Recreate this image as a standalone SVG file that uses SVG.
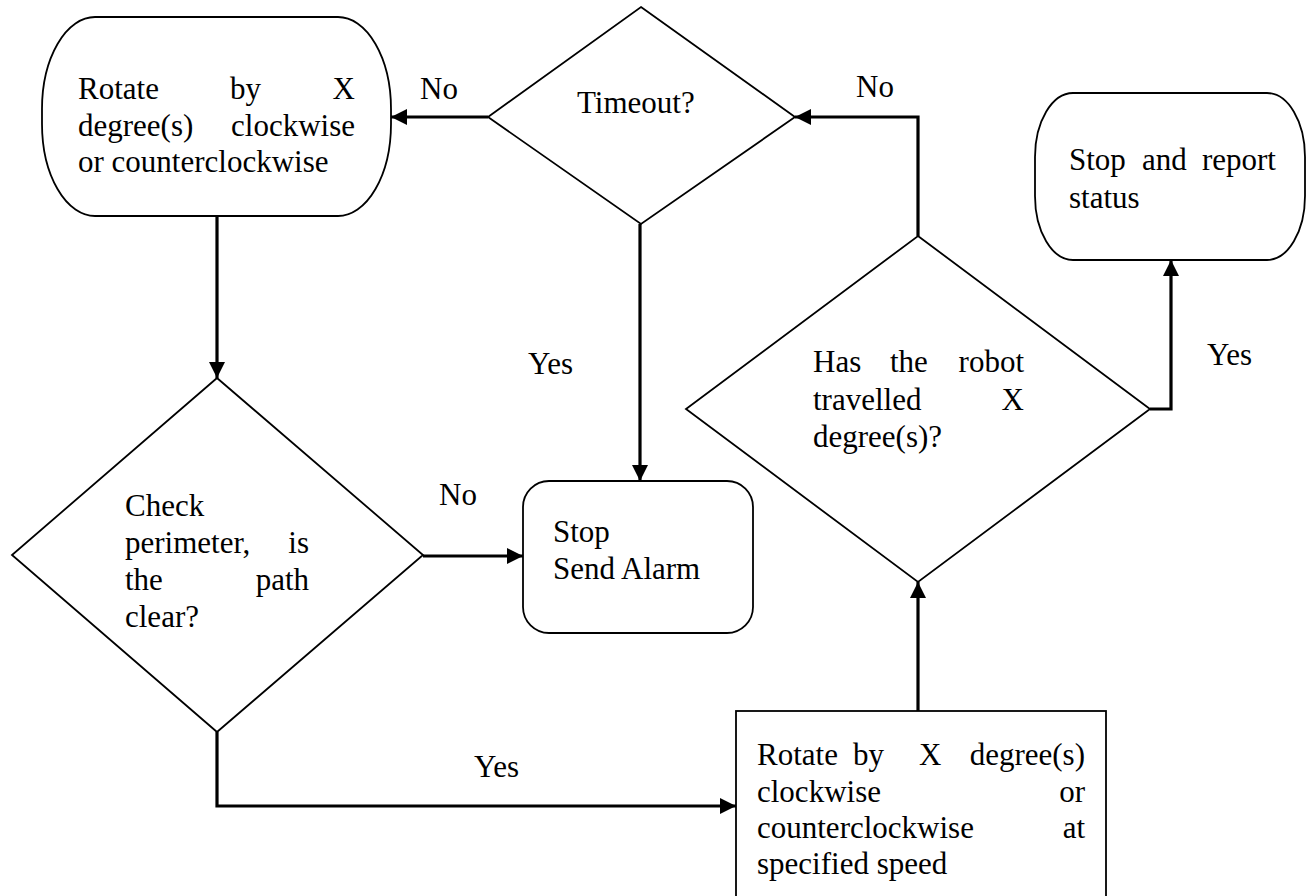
<svg xmlns="http://www.w3.org/2000/svg" width="1313" height="896" viewBox="0 0 1313 896">
  <style>
    .shape { fill: #ffffff; stroke: #000000; stroke-width: 1.8; }
    .conn { fill: none; stroke: #000000; stroke-width: 3.2; }
    text { font-family: "Liberation Serif", "Times New Roman", serif; font-size: 31px; fill: #000000; }
    .end { text-anchor: end; }
  </style>
  <defs>
    <marker id="arrow" markerUnits="userSpaceOnUse" markerWidth="18" markerHeight="16" refX="16" refY="8" orient="auto">
      <path d="M0,0 L16,8 L0,16 Z" fill="#000000"/>
    </marker>
  </defs>
  <rect width="1313" height="896" fill="#ffffff"/>

  <!-- Rotate (top-left terminator) -->
  <g id="rotate-start">
    <rect class="shape" x="42" y="17" width="349" height="199" rx="53" ry="92"/>
    <text x="78" y="99">Rotate</text>
    <text x="230" y="99">by</text>
    <text class="end" x="355" y="99">X</text>
    <text x="78" y="136">degree(s)</text>
    <text class="end" x="355" y="136">clockwise</text>
    <text x="78" y="172">or counterclockwise</text>
  </g>

  <!-- Timeout decision -->
  <g id="timeout">
    <polygon class="shape" points="641,7 795,117 641,224 488,117"/>
    <text x="577" y="113">Timeout?</text>
  </g>

  <!-- Stop and report status -->
  <g id="stop-report">
    <rect class="shape" x="1035" y="93" width="270" height="167" rx="38" ry="64"/>
    <text x="1069" y="170">Stop</text>
    <text x="1142" y="170">and</text>
    <text class="end" x="1276" y="170">report</text>
    <text x="1069" y="208">status</text>
  </g>

  <!-- Check perimeter decision -->
  <g id="check-perimeter">
    <polygon class="shape" points="217,378 423,555 217,732 12,555"/>
    <text x="125" y="516">Check</text>
    <text x="125" y="553">perimeter,</text>
    <text class="end" x="309" y="553">is</text>
    <text x="125" y="590">the</text>
    <text class="end" x="309" y="590">path</text>
    <text x="125" y="627">clear?</text>
  </g>

  <!-- Stop / Send Alarm -->
  <g id="stop-alarm">
    <rect class="shape" x="523" y="481" width="230" height="152" rx="26" ry="26"/>
    <text x="553" y="542">Stop</text>
    <text x="553" y="579">Send Alarm</text>
  </g>

  <!-- Has the robot travelled decision -->
  <g id="travelled">
    <polygon class="shape" points="918,236 1150,409 918,582 686,409"/>
    <text x="813" y="372">Has</text>
    <text x="890" y="372">the</text>
    <text class="end" x="1024" y="372">robot</text>
    <text x="813" y="410">travelled</text>
    <text class="end" x="1024" y="410">X</text>
    <text x="813" y="447">degree(s)?</text>
  </g>

  <!-- Rotate at specified speed (process) -->
  <g id="rotate-speed">
    <rect class="shape" x="736" y="711" width="370" height="200"/>
    <text x="757" y="765">Rotate</text>
    <text x="853" y="765">by</text>
    <text x="919" y="765">X</text>
    <text class="end" x="1085" y="765">degree(s)</text>
    <text x="757" y="802">clockwise</text>
    <text class="end" x="1085" y="802">or</text>
    <text x="757" y="838">counterclockwise</text>
    <text class="end" x="1085" y="838">at</text>
    <text x="757" y="874">specified speed</text>
  </g>

  <!-- Connectors -->
  <g id="connectors">
    <path class="conn" d="M488,117 L391,117" marker-end="url(#arrow)"/>
    <path class="conn" d="M918,236 L918,117 L795,117" marker-end="url(#arrow)"/>
    <path class="conn" d="M640,224 L640,481" marker-end="url(#arrow)"/>
    <path class="conn" d="M217,216 L217,378" marker-end="url(#arrow)"/>
    <path class="conn" d="M423,556 L523,556" marker-end="url(#arrow)"/>
    <path class="conn" d="M217,732 L217,806 L736,806" marker-end="url(#arrow)"/>
    <path class="conn" d="M918,711 L918,582" marker-end="url(#arrow)"/>
    <path class="conn" d="M1150,409 L1171,409 L1171,260" marker-end="url(#arrow)"/>
  </g>

  <!-- Branch labels -->
  <g id="labels">
    <text x="420" y="99">No</text>
    <text x="856" y="97">No</text>
    <text x="528" y="374">Yes</text>
    <text x="1207" y="365">Yes</text>
    <text x="439" y="505">No</text>
    <text x="474" y="777">Yes</text>
  </g>
</svg>
